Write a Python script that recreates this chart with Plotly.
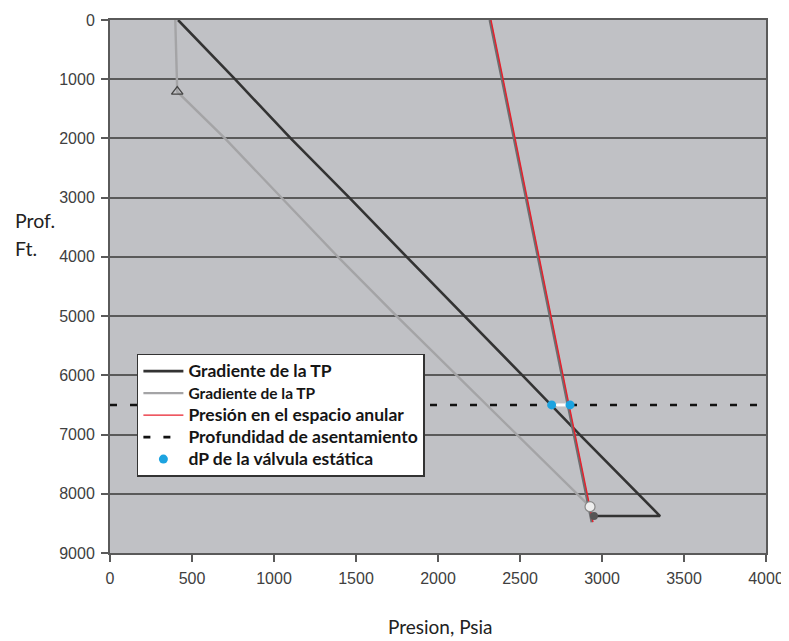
import plotly.graph_objects as go

# ---- data ----
depth_ticks = [0, 1000, 2000, 3000, 4000, 5000, 6000, 7000, 8000, 9000]
pres_ticks = [0, 500, 1000, 1500, 2000, 2500, 3000, 3500, 4000]

# dark tubing gradient
tp1_p = [415, 762, 1102, 1459, 1809, 2165, 2515, 2864, 3217, 3354, 2951]
tp1_d = [0, 1000, 2000, 3000, 4000, 5000, 6000, 7000, 8000, 8376, 8376]

# light tubing gradient
tp2_p = [398, 405, 410, 701, 1047, 1390, 1748, 2114, 2480, 2847, 2927]
tp2_d = [0, 1000, 1210, 2000, 3000, 4000, 5000, 6000, 7000, 8000, 8218]

# annulus pressure
ann_p = [2323, 2397, 2799, 2945]
ann_d = [0, 1000, 6500, 8480]
shadow_offset = -7  # psi, grey shadow drawn just left of the red line

# setting depth
set_depth = 6500
set_p = [0, 4000]

# static valve dP points
dp_p = [2693, 2805]
dp_d = [6500, 6500]

# special markers
tri_p, tri_d = [410], [1210]
circ_p, circ_d = [2927], [8218]
end_p, end_d = [2951], [8376]

BG = "#C0C1C5"
GRID = "#5A5A5A"
TXT = "#404040"
FONT = "Liberation Sans, Arial, sans-serif"
LEGFONT = "Lato, Open Sans, sans-serif"


def big(s, px=17.5):
    return f'<span style="font-size:{px}px">{s}</span>'


fig = go.Figure()

fig.add_trace(go.Scatter(x=tp1_p, y=tp1_d, mode="lines",
                         line=dict(color="#333333", width=2.6),
                         name=big("Gradiente de la TP")))
fig.add_trace(go.Scatter(x=tp2_p, y=tp2_d, mode="lines",
                         line=dict(color="#A4A4A6", width=2.4),
                         name=big("Gradiente de la TP", 15.5)))
fig.add_trace(go.Scatter(x=[p + shadow_offset for p in ann_p], y=ann_d, mode="lines",
                         line=dict(color="#6E6E70", width=2.6),
                         showlegend=False, hoverinfo="skip"))
fig.add_trace(go.Scatter(x=ann_p, y=ann_d, mode="lines",
                         line=dict(color="#E8202C", width=1.4),
                         name=big("Presión en el espacio anular")))
fig.add_trace(go.Scatter(x=set_p, y=[set_depth, set_depth], mode="lines",
                         line=dict(color="#111111", width=2.6, dash="7px,13px"),
                         name=big("Profundidad de asentamiento")))
fig.add_trace(go.Scatter(x=dp_p, y=dp_d, mode="lines",
                         line=dict(color="white", width=3),
                         showlegend=False, hoverinfo="skip"))
fig.add_trace(go.Scatter(x=dp_p, y=dp_d, mode="markers",
                         marker=dict(color="#1CA3E0", size=9),
                         name=big("dP de la válvula estática")))
fig.add_trace(go.Scatter(x=tri_p, y=tri_d, mode="markers",
                         marker=dict(symbol="triangle-up-open", color="#444444",
                                     size=10, line=dict(width=1.3)),
                         showlegend=False))
fig.add_trace(go.Scatter(x=end_p, y=end_d, mode="markers",
                         marker=dict(color="#555555", size=8),
                         showlegend=False))
fig.add_trace(go.Scatter(x=circ_p, y=circ_d, mode="markers",
                         marker=dict(color="#EEEEEE", size=10,
                                     line=dict(color="#888888", width=1.2)),
                         showlegend=False))

fig.update_layout(
    width=781, height=633,
    margin=dict(l=102, r=23, t=12, b=88, autoexpand=False),
    paper_bgcolor="white",
    plot_bgcolor=BG,
    font=dict(family=FONT, size=16, color=TXT),
    showlegend=True,
    legend=dict(
        x=0.041, y=0.374, xanchor="left", yanchor="top",
        bgcolor="white", bordercolor="#333333", borderwidth=1.5,
        font=dict(family=LEGFONT, size=14.6, color="#151515", weight="bold"),
        itemwidth=40, tracegroupgap=0,
    ),
    xaxis=dict(
        range=[0, 4000], tickvals=pres_ticks,
        ticktext=[str(v) for v in pres_ticks],
        showgrid=False, zeroline=False, automargin=False,
        showline=True, linecolor=GRID, linewidth=2, mirror=True,
        ticks="outside", ticklen=7, tickcolor=GRID, tickwidth=1.5,
        tickfont=dict(family=FONT, size=16, color=TXT),
        ticklabelstandoff=3,
    ),
    yaxis=dict(
        range=[9000, 0], tickvals=depth_ticks,
        ticktext=[str(v) for v in depth_ticks],
        showgrid=True, gridcolor=GRID, gridwidth=2, zeroline=False, automargin=False,
        showline=True, linecolor=GRID, linewidth=2, mirror=True,
        ticks="outside", ticklen=7, tickcolor=GRID, tickwidth=1.5,
        tickfont=dict(family=FONT, size=16, color=TXT),
        ticklabelstandoff=3,
    ),
    annotations=[
        dict(text="Prof.", xref="paper", yref="paper",
             x=-0.1485, y=0.623, xanchor="left", yanchor="middle",
             showarrow=False, font=dict(family=LEGFONT, size=19.5, color="#222222")),
        dict(text="Ft.", xref="paper", yref="paper",
             x=-0.1485, y=0.572, xanchor="left", yanchor="middle",
             showarrow=False, font=dict(family=LEGFONT, size=19.5, color="#222222")),
        dict(text="Presion, Psia", xref="paper", yref="paper",
             x=0.504, y=-0.138, xanchor="center", yanchor="middle",
             showarrow=False, font=dict(family=LEGFONT, size=19, color="#222222")),
    ],
)

fig.write_html("out.html")
